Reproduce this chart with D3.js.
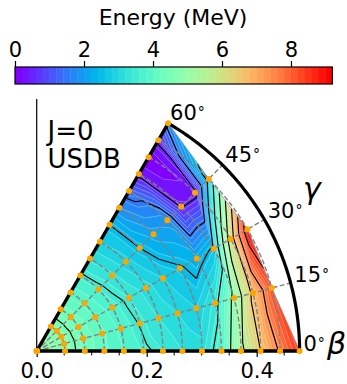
<!DOCTYPE html>
<html><head><meta charset="utf-8">
<script src="https://cdn.jsdelivr.net/npm/d3@7"></script>
<style>body{margin:0;background:#fff}svg{display:block}text{font-family:"DejaVu Sans",sans-serif;fill:#000}</style>
</head><body><svg id="c" width="347" height="384"></svg>
<script>
// ---------------- data ----------------
const betas = [0, 0.0515, 0.0875, 0.123, 0.1585, 0.194, 0.2295, 0.265, 0.3005, 0.336, 0.3715, 0.407, 0.4425, 0.478];
const gammas = [0, 15, 30, 45, 60];
// energy (MeV) at each beta for each gamma ray (null = no mesh point)
const energyG0  = [5.0, 4.68, 4.35, 4.05, 3.8, 3.58, 3.4, 3.2, 3.1, 3.8, 5.3, 6.5, 7.6, 8.5];
const energyG15 = [5.0, 4.68, 4.35, 4.05, 3.75, 3.48, 3.2, 3.0, 2.8, 3.3, 4.7, 6.7, 8.2, null];
const energyG30 = [5.0, 4.68, 4.33, 4.0, 3.7, 3.4, 3.1, 2.8, 2.55, 2.3, 2.6, 6.0, 9.1, null];
const energyG45 = [5.0, 4.68, 4.3, 3.95, 3.6, 3.25, 2.88, 2.5, 2.1, 1.9, 0.45, 0.3, 2.8, null];
const energyG60 = [5.0, 4.68, 4.3, 3.92, 3.55, 3.15, 2.8, 2.5, 1.8, 1.3, 0.35, 0.0, 0.6, 1.7];
const energyByGamma = [energyG0, energyG15, energyG30, energyG45, energyG60];
const colorbarTicks = [0, 2, 4, 6, 8];
const xTickLabels = [0.0, 0.2, 0.4];
const xMinorTicks = [0.05, 0.1, 0.15, 0.25, 0.3, 0.35, 0.45];
const gammaLabels = ["0", "15", "30", "45", "60"];
const fillStep = 0.2, fillMax = 9.2;
const lineLevels = [0.5, 1.5, 2.5, 3.5, 4.5, 5.5, 6.5, 7.5, 8.5];

// ---------------- setup ----------------
const svg = d3.select("#c");
const PX = 550;
const x = d3.scaleLinear().domain([0, 0.5]).range([36.7, 36.7 + 0.5 * PX]);
const y = d3.scaleLinear().domain([0, 0.5]).range([351, 351 - 0.5 * PX]);
const rad = g => g * Math.PI / 180;
const pt = (b, g) => ({ x: x(b * Math.cos(rad(g))), y: y(b * Math.sin(rad(g))) });

function rainbow(t) {
  t = Math.max(0, Math.min(1, t));
  const r = Math.min(1, Math.abs(2 * t - 0.5)), g = Math.sin(Math.PI * t), b = Math.cos(Math.PI * t / 2);
  return d3.rgb(r * 255, g * 255, Math.max(0, b) * 255).toString();
}
const fillLevels = d3.range(0, fillMax + 1e-9, fillStep);
const nBands = fillLevels.length - 1;
const bandColor = i => rainbow(i / (nBands - 1));

// ---------------- mesh ----------------
const nodes = [];
betas.forEach((b, k) => {
  nodes[k] = gammas.map((g, j) => {
    const v = energyByGamma[j][k];
    if (v == null) return null;
    const p = pt(b, g);
    return { x: p.x, y: p.y, v: v };
  });
});
const tris = [];
for (let k = 0; k < betas.length - 1; k++) {
  for (let j = 0; j < gammas.length - 1; j++) {
    const a = nodes[k][j], b = nodes[k + 1][j], c = nodes[k + 1][j + 1], d = nodes[k][j + 1];
    if (k === 0) { tris.push([a, b, c]); continue; }
    const q = [a, b, c, d].filter(n => n);
    if (q.length === 4) { tris.push([a, b, c]); tris.push([a, c, d]); }
    else if (q.length === 3) tris.push(q);
  }
}

function clip(poly, lev, above) {
  const out = [];
  for (let i = 0; i < poly.length; i++) {
    const a = poly[i], b = poly[(i + 1) % poly.length];
    const ia = above ? a.v >= lev : a.v <= lev;
    const ib = above ? b.v >= lev : b.v <= lev;
    if (ia) out.push(a);
    if (ia !== ib) {
      const t = (lev - a.v) / (b.v - a.v);
      out.push({ x: a.x + t * (b.x - a.x), y: a.y + t * (b.y - a.y), v: lev });
    }
  }
  return out;
}
function isoSegs(level) {
  const segs = [];
  tris.forEach(t => {
    const pts = [];
    for (let i = 0; i < 3; i++) {
      const a = t[i], b = t[(i + 1) % 3];
      if ((a.v > level) !== (b.v > level)) {
        const s = (level - a.v) / (b.v - a.v);
        pts.push([a.x + s * (b.x - a.x), a.y + s * (b.y - a.y)]);
      }
    }
    if (pts.length === 2) segs.push(pts);
  });
  return segs;
}

// ---------------- filled contours ----------------
const gFill = svg.append("g");
for (let i = 0; i < nBands; i++) {
  const lo = fillLevels[i], hi = fillLevels[i + 1];
  let d = "";
  tris.forEach(t => {
    let p = clip(t, lo, true);
    if (p.length < 3) return;
    p = clip(p, hi, false);
    if (p.length < 3) return;
    d += "M" + p.map(q => q.x.toFixed(2) + "," + q.y.toFixed(2)).join("L") + "Z";
  });
  if (d) gFill.append("path").attr("d", d).attr("fill", bandColor(i))
    .attr("stroke", bandColor(i)).attr("stroke-width", 0.6).attr("stroke-linejoin", "round");
}
const segPath = segs => segs.map(s => "M" + s[0][0].toFixed(2) + "," + s[0][1].toFixed(2) + "L" + s[1][0].toFixed(2) + "," + s[1][1].toFixed(2)).join("");
fillLevels.slice(1, -1).forEach(l => {
  svg.append("path").attr("d", segPath(isoSegs(l))).attr("fill", "none")
    .attr("stroke", "rgba(255,255,255,0.35)").attr("stroke-width", 0.7);
});
lineLevels.forEach(l => {
  svg.append("path").attr("d", segPath(isoSegs(l))).attr("fill", "none")
    .attr("stroke", "#000").attr("stroke-width", 1.15);
});
const outer = [nodes[13][0], nodes[12][1], nodes[12][2], nodes[12][3], nodes[13][4]];
svg.append("path").attr("d", d3.line().x(d => d.x).y(d => d.y)(outer))
  .attr("fill", "none").attr("stroke", "#999").attr("stroke-width", 0.8);

// ---------------- dashed grid ----------------
const gGrid = svg.append("g").attr("fill", "none").attr("stroke", "#808080")
  .attr("stroke-width", 1.4).attr("stroke-dasharray", "5,2.4");
betas.slice(1, 13).forEach(b => {
  const arc = d3.range(0, 60.01, 1).map(g => pt(b, g));
  gGrid.append("path").attr("d", d3.line().x(d => d.x).y(d => d.y)(arc));
});
[15, 30, 45].forEach(g => {
  const p0 = pt(0, g), p1 = pt(0.485, g);
  gGrid.append("line").attr("x1", p0.x).attr("y1", p0.y).attr("x2", p1.x).attr("y2", p1.y);
});

// ---------------- frame ----------------
const bMax = betas[betas.length - 1];
const edge = (g) => { const p0 = pt(0, g), p1 = pt(bMax, g); return `M${p0.x},${p0.y}L${p1.x},${p1.y}`; };
svg.append("path").attr("d", edge(0) + edge(60)).attr("stroke", "#000").attr("stroke-width", 3.4).attr("fill", "none");
svg.append("path").attr("d", d3.line().x(d => d.x).y(d => d.y)(d3.range(0, 60.01, 0.5).map(g => pt(bMax, g))))
  .attr("stroke", "#000").attr("stroke-width", 3.2).attr("fill", "none");
svg.append("line").attr("x1", x(0)).attr("x2", x(0)).attr("y1", 99).attr("y2", 351).attr("stroke", "#000").attr("stroke-width", 1.2);

const gx = svg.append("g").attr("transform", "translate(0,351)");
gx.call(d3.axisBottom(x).tickValues(xTickLabels).tickFormat(d3.format(".1f")).tickSize(6).tickPadding(6));
gx.select(".domain").remove();
gx.selectAll("text").style("font-size", "21px").style("font-family", "DejaVu Sans");
gx.selectAll("line").attr("stroke-width", 1.2);
xMinorTicks.forEach(t => gx.append("line").attr("x1", x(t)).attr("x2", x(t)).attr("y1", 0).attr("y2", 4.5).attr("stroke", "#000").attr("stroke-width", 1));

// ---------------- mesh points ----------------
const gPts = svg.append("g");
nodes.forEach(row => row.forEach(n => { if (n) gPts.append("circle").attr("cx", n.x).attr("cy", n.y).attr("r", 3).attr("fill", "orange"); }));

// ---------------- labels ----------------
gammas.forEach((g, i) => {
  const p = pt(0.485, g);
  const t = svg.append("text").attr("x", p.x).attr("y", p.y).style("font-size", "21px");
  t.append("tspan").text(gammaLabels[i]);
  t.append("tspan").attr("dx", 1).attr("dy", -3).style("font-size", "14px").text("°");
});
svg.append("text").attr("x", 303).attr("y", 199).style("font-size", "30px").style("font-style", "italic").text("γ");
svg.append("text").attr("x", 327).attr("y", 354).style("font-size", "30px").style("font-style", "italic").text("β");
svg.append("text").attr("x", 47.5).attr("y", 140).style("font-size", "26px").text("J=0");
svg.append("text").attr("x", 47.5).attr("y", 167.7).style("font-size", "26px").text("USDB");

// ---------------- colorbar ----------------
const cb = d3.scaleLinear().domain([0, fillMax]).range([15, 332.4]);
const gcb = svg.append("g");
for (let i = 0; i < nBands; i++) {
  gcb.append("rect").attr("x", cb(fillLevels[i])).attr("y", 67).attr("width", cb(fillLevels[i + 1]) - cb(fillLevels[i]) + 0.4)
    .attr("height", 17).attr("fill", bandColor(i));
}
gcb.append("rect").attr("x", 15).attr("y", 67).attr("width", 317.4).attr("height", 17).attr("fill", "none").attr("stroke", "#000").attr("stroke-width", 1.2);
const gca = svg.append("g").attr("transform", "translate(0,67)");
gca.call(d3.axisTop(cb).tickValues(colorbarTicks).tickFormat(d3.format("d")).tickSize(6).tickPadding(4));
gca.select(".domain").remove();
gca.selectAll("text").style("font-size", "21px").style("font-family", "DejaVu Sans");
gca.selectAll("line").attr("stroke-width", 1.2);
svg.append("text").attr("x", 173).attr("y", 25).attr("text-anchor", "middle").style("font-size", "22px").text("Energy (MeV)");
</script></body></html>
